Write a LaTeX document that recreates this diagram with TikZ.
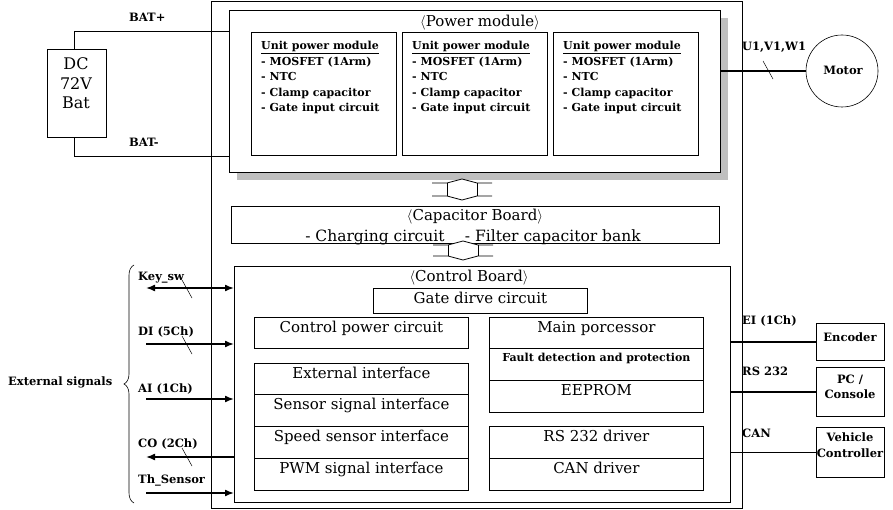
\documentclass[tikz,border=0pt]{standalone}
\usepackage{fontspec}
\setmainfont{DejaVu Serif}
\usetikzlibrary{calc, positioning, arrows.meta, decorations.pathreplacing}

\tikzset{
  box/.style={draw, line width=0.8pt, fill=white, inner sep=0pt, anchor=north west},
  unit/.style={box, minimum width=145, minimum height=123},
  cell/.style={box, minimum width=214, minimum height=#1},
  dev/.style={box, minimum width=68, minimum height=#1},
  big/.style={anchor=base, inner sep=0pt, font=\fontsize{15}{18}\selectfont},
  lab/.style={anchor=base west, inner sep=0pt, font=\bfseries\fontsize{11.5}{14}\selectfont},
  mid/.style={anchor=base, inner sep=0pt, font=\bfseries\fontsize{11.5}{14}\selectfont},
  bus/.style={line width=1.6pt},
  sigarrow/.style={bus, -{Latex[length=9pt, width=7pt]}},
  slash/.style={line width=0.5pt},
}

\begin{document}
\begin{tikzpicture}[x=1pt, y=-1pt]
  \useasboundingbox (0,0) rectangle (893,510);

  \newcommand{\drawSlash}[2]
  {
    \draw[slash] (#1-5,#2-9) -- (#1+5,#2+9);
  }

  \newcommand{\drawLink}[3]
  {
    \fill[white] (#1-15,#2) -- (#1,#2-4) -- (#1+15,#2) -- (#1+15,#3) -- (#1,#3+4) -- (#1-15,#3) -- cycle;
    \draw[line width=0.8pt] (#1-30,#2) -- (#1-15,#2) -- (#1,#2-4) -- (#1+15,#2) -- (#1+30,#2);
    \draw[line width=0.8pt] (#1-30,#3) -- (#1-15,#3) -- (#1,#3+4) -- (#1+15,#3) -- (#1+30,#3);
    \draw[line width=0.8pt] (#1-15,#2) -- (#1-15,#3) (#1+15,#2) -- (#1+15,#3);
  }

  % inverter housing
  \node[box, minimum width=531, minimum height=507] (inv) at (211,1) {};

  % power module
  \fill[black!25] (237,18) rectangle (728,180);
  \node[box, minimum width=491, minimum height=162] (pm) at (229,10) {};
  \node[big] (pmT) at (480,27) {$\langle$Power module$\rangle$};

  \foreach \i/\x in {1/251, 2/402, 3/553}
  {
    \node[unit] (u\i) at (\x,32) {};
    \foreach \t [count=\k] in {\underline{Unit power module}, - MOSFET (1Arm), - NTC, - Clamp capacitor, - Gate input circuit}
      \node[lab, font=\bfseries\fontsize{11}{13}\selectfont] (u\i t\k) at ($(u\i.north west)+(10,2.5+15.5*\k)$) {\t};
  }

  % battery
  \node[box, minimum width=59, minimum height=88] (bat) at (47,49) {};
  \foreach \t/\yy in {DC/70, 72V/90, Bat/109}
    \node[big, font=\fontsize{16}{19}\selectfont] (bat\t) at (76,\yy) {\t};

  \coordinate (batP) at ($(pm.north west)+(0,21)$);
  \coordinate (batM) at ($(pm.north west)+(0,146)$);
  \draw[line width=0.6pt] ($(bat.north west)!0.45!(bat.north east)$) |- (batP);
  \draw[line width=0.6pt] ($(bat.south west)!0.45!(bat.south east)$) |- (batM);
  \node[lab] (batPT) at (129,22) {BAT+};
  \node[lab] (batMT) at (129,147) {BAT-};

  % motor
  \node[draw, circle, line width=0.6pt, minimum size=72, inner sep=0pt] (mot) at (842,71) {};
  \node[mid] (motT) at (843,75) {Motor};
  \draw[bus] (pm.east |- mot.west) -- (mot.west);
  \drawSlash{768}{70}
  \node[lab] (uvwT) at (742,51) {U1,V1,W1};

  % capacitor board
  \node[box, minimum width=488, minimum height=37] (cap) at (231,206) {};
  \node[big] (capT) at (475,221) {$\langle$Capacitor Board$\rangle$};
  \node[big, font=\fontsize{15.5}{18}\selectfont] (capL) at (473,242) {- Charging circuit\quad\ - Filter capacitor bank};

  % control board
  \node[box, minimum width=496, minimum height=236] (ctl) at (234,266) {};
  \node[big] (ctlT) at (469,282) {$\langle$Control Board$\rangle$};
  \node[box, minimum width=214, minimum height=25] (gate) at (373,288) {};
  \node[big] (gateT) at ($(gate.north)+(0,15)$) {Gate dirve circuit};

  \foreach \n/\x/\y/\h/\t in {cpower/254/317/31/Control power circuit, ext/254/363/31/External interface,
      sensor/254/394/32/Sensor signal interface, speed/254/426/32/Speed sensor interface,
      pwm/254/458/32/PWM signal interface, mainp/489/317/31/Main porcessor,
      eeprom/489/380/32/EEPROM, rs/489/426/32/RS 232 driver, can/489/458/32/CAN driver}
  {
    \node[cell=\h] (\n) at (\x,\y) {};
    \node[big] (\n T) at ($(\n.north)+(0,15)$) {\t};
  }
  \node[cell=32] (fault) at (489,348) {};
  \node[mid, font=\bfseries\fontsize{11}{13}\selectfont] (faultT) at ($(fault.north)+(0,13)$) {Fault detection and protection};

  \drawLink{462}{183}{196}
  \drawLink{463}{245}{256}

  % external devices
  \node[dev=37] (enc) at (816,323) {};
  \node[mid] (encT) at (850,341) {Encoder};
  \node[dev=49] (pc) at (816,367) {};
  \node[mid] (pcT) at (850,383) {PC /};
  \node[mid] (pcT2) at (850,398) {Console};
  \node[dev=50] (veh) at (816,427) {};
  \node[mid] (vehT) at (850,441) {Vehicle};
  \node[mid] (vehT2) at (850,457) {Controller};

  \draw[bus] (ctl.east |- enc.west) -- (enc.west);
  \draw[bus] (ctl.east |- pc.west) -- (pc.west);
  \draw[bus] (ctl.east |- veh.west) -- (veh.west);
  \node[lab] (eiT) at (742,324) {EI (1Ch)};
  \node[lab] (rsT) at (742,375) {RS 232};
  \node[lab] (canT) at (742,437) {CAN};

  % external signals
  \coordinate (sKey) at (146,288);
  \coordinate (sDI) at (146,344);
  \coordinate (sAI) at (146,399);
  \coordinate (sCO) at (146,457);
  \coordinate (sTh) at (146,493);
  \draw[bus, {Latex[length=9pt, width=7pt]}-{Latex[length=9pt, width=7pt]}] (sKey) -- (sKey -| ctl.west);
  \draw[sigarrow] (sDI) -- (sDI -| ctl.west);
  \draw[sigarrow] (sAI) -- (sAI -| ctl.west);
  \draw[sigarrow] (sCO -| ctl.west) -- (sCO);
  \draw[sigarrow] (sTh) -- (sTh -| ctl.west);
  \drawSlash{187}{289}
  \drawSlash{187}{345}
  \drawSlash{187}{457}

  \node[lab] (keyT) at (138,280) {Key\_sw};
  \node[lab] (diT) at (138,335) {DI (5Ch)};
  \node[lab] (aiT) at (138,392) {AI (1Ch)};
  \node[lab] (coT) at (138,447) {CO (2Ch)};
  \node[lab] (thT) at (138,483) {Th\_Sensor};

  \draw[line width=0.6pt, decorate, decoration={brace, amplitude=10pt}] (134,503) -- (134,265);
  \node[lab] (extT) at (8,385) {External signals};
\end{tikzpicture}
\end{document}
